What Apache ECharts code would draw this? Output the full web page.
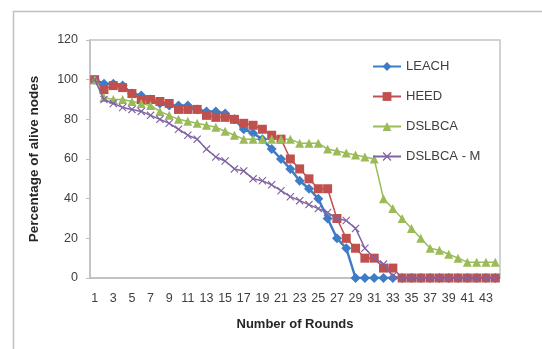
<!DOCTYPE html>
<html><head><meta charset="utf-8">
<script src="https://cdn.jsdelivr.net/npm/echarts@6/dist/echarts.min.js"></script>
<style>html,body{margin:0;padding:0;background:#fff}#c{width:542px;height:349px}</style>
</head><body><div id="c"></div>
<script>
var rounds = [];
for (var i = 1; i <= 44; i++) rounds.push(String(i));
var leach = [100,98,98,97,93,92,90,88,87,87,87,85,84,84,83,80,75,73,70,65,60,55,49,45,40,30,20,15,0,0,0,0,0,0,0,0,0,0,0,0,0,0,0,0];
var heed = [100,95,97,96,93,90,90,89,88,85,85,85,82,81,81,80,78,77,75,72,70,60,55,50,45,45,30,20,15,10,10,5,5,0,0,0,0,0,0,0,0,0,0,0];
var dslbca = [100,91,90,90,89,88,87,84,82,80,79,78,77,76,74,72,70,70,70,70,70,70,68,68,68,65,64,63,62,61,60,40,35,30,25,20,15,14,12,10,8,8,8,8];
var dslbcaM = [100,90,88,86,85,84,82,80,78,75,72,70,65,61,59,55,54,50,49,47,44,41,39,37,35,33,30,29,25,15,10,7,1,0,0,0,0,0,0,0,0,0,0,0];
var names = ['LEACH','HEED','DSLBCA','DSLBCA - M'];
var yTicks = [0,20,40,60,80,100,120];

var xSym = 'path://M0,1L1,0L5,4L9,0L10,1L6,5L10,9L9,10L5,6L1,10L0,9L4,5Z';
var font = "'Liberation Sans', Arial, sans-serif";
var chart = echarts.init(document.getElementById('c'));
chart.setOption({
  animation: false,
  textStyle: {fontFamily: font},
  graphic: [{type:'rect', shape:{x:13.5,y:11.5,width:600,height:400}, style:{fill:'none', stroke:'#bfbfbf', lineWidth:1.5}, silent:true}],
  grid: {left: 90, right: 42, top: 40, bottom: 71, show: true, borderColor: '#c4c4c4', borderWidth: 1.5, backgroundColor: 'transparent'},
  legend: {
    orient: 'vertical', left: 367, top: 55, itemGap: 17, itemWidth: 28, itemHeight: 11,
    textStyle: {fontSize: 13, color: '#404040', fontFamily: font},
    data: names
  },
  xAxis: {
    type: 'category', data: rounds, boundaryGap: true,
    name: 'Number of Rounds', nameLocation: 'middle', nameGap: 40,
    nameTextStyle: {fontWeight: 'bold', fontSize: 13, color: '#262626'},
    axisLine: {lineStyle: {color: '#bfbfbf', width: 1.5}},
    axisTick: {show: false},
    axisLabel: {interval: 1, color: '#404040', fontSize: 12.5, margin: 14}
  },
  yAxis: {
    type: 'value', min: 0, max: 120, interval: 20,
    name: 'Percentage of alive nodes', nameLocation: 'middle', nameGap: 49,
    nameTextStyle: {fontWeight: 'bold', fontSize: 13.5, color: '#262626'},
    axisLine: {show: true, lineStyle: {color: '#bfbfbf', width: 1.5}},
    axisTick: {show: true, inside: false, length: 4, lineStyle: {color: '#bfbfbf'}},
    splitLine: {show: false},
    axisLabel: {color: '#404040', fontSize: 12.5, margin: 12}
  },
  series: [
    {name: names[0], type: 'line', data: leach, symbol: 'diamond', symbolSize: 10, showAllSymbol: true, color: '#3f7cc6', lineStyle: {width: 2.5}},
    {name: names[1], type: 'line', data: heed, symbol: 'rect', symbolSize: 9, showAllSymbol: true, color: '#c0504d', lineStyle: {width: 1.5}},
    {name: names[2], type: 'line', data: dslbca, symbol: 'triangle', symbolSize: 9, showAllSymbol: true, color: '#9bbb59', lineStyle: {width: 1.5}},
    {name: names[3], type: 'line', data: dslbcaM, symbol: xSym, symbolSize: 8, showAllSymbol: true, color: '#8064a2', lineStyle: {width: 1.5}, z: 5}
  ]
});
</script></body></html>
